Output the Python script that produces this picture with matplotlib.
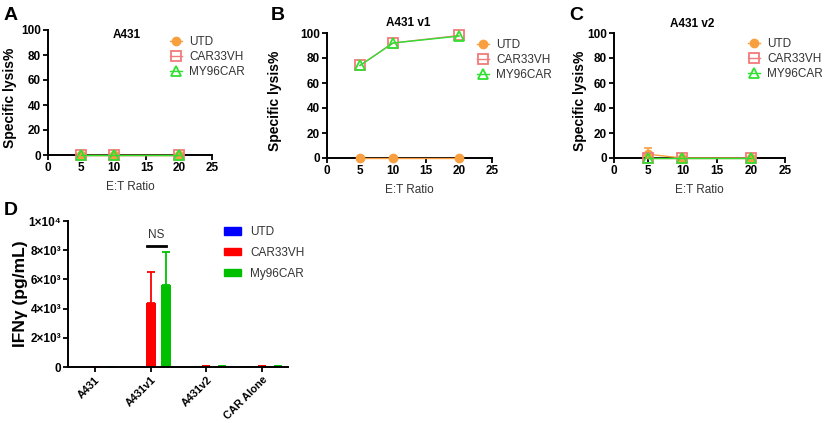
import numpy as np
import matplotlib.pyplot as plt
from matplotlib.patches import Patch
from matplotlib.lines import Line2D

plt.rcParams['font.family'] = ['Liberation Sans', 'DejaVu Sans']

# lysis data
ratios = [5, 10, 20]
series_names = ['UTD', 'CAR33VH', 'MY96CAR']
a431_utd = [0, 0, 0]
a431_car33 = [0, 0, 0]
a431_my96 = [0, 0, 0]
v1_utd = [0, 0, 0]
v1_car33 = [74, 92, 98]
v1_my96 = [74, 92, 97.5]
v2_utd = [3, 0, 0]
v2_utd_err = [5, 0, 0]
v2_car33 = [0, 0, 0]
v2_my96 = [0, 0, 0]

# IFNg data
ifn_cats = ['A431', 'A431v1', 'A431v2', 'CAR Alone']
ifn_names = ['UTD', 'CAR33VH', 'My96CAR']
ifn_utd = [0, 0, 0, 60]
ifn_car33 = [0, 4400, 60, 60]
ifn_my96 = [0, 5600, 60, 60]
ifn_car33_err = [0, 2100, 0, 0]
ifn_my96_err = [0, 2250, 0, 0]

W, H = 831, 423
fig = plt.figure(figsize=(W / 100, H / 100), dpi=100)

def px_axes(l, t, r, b):
    return fig.add_axes([l / W, 1 - b / H, (r - l) / W, (b - t) / H])

ORANGE = '#F8A040'
PINK = '#F27B7B'
LIME = '#30E030'

def style_axes(ax):
    for s in ['top', 'right']:
        ax.spines[s].set_visible(False)
    for s in ['left', 'bottom']:
        ax.spines[s].set_linewidth(1.4)
    ax.tick_params(direction='out', length=3.5, width=1.3, labelsize=8.5, pad=1.5)
    for lab in ax.get_xticklabels() + ax.get_yticklabels():
        lab.set_fontweight('bold')

def lysis_panel(box, utd, car33, my96, title, title_y, letter, letter_xy, leg_xy, ylab_x, utd_err=None):
    ax = px_axes(*box)
    ax.plot(ratios, utd, color=ORANGE, lw=1, marker='o', ms=6, mec=ORANGE, mfc=ORANGE, clip_on=False, zorder=5)
    if utd_err is not None:
        ax.errorbar(ratios, utd, yerr=[np.zeros(len(utd)), utd_err], fmt='none', ecolor=ORANGE,
                    elinewidth=1.2, capsize=3, capthick=1.2, clip_on=False, zorder=5)
    ax.plot(ratios, car33, color=PINK, lw=1, marker='s', ms=6.5, mec=PINK, mfc='none', mew=1.3, clip_on=False, zorder=6)
    ax.plot(ratios, my96, color=LIME, lw=1, marker='^', ms=6.5, mec=LIME, mfc='none', mew=1.3, clip_on=False, zorder=7)
    ax.set_xlim(0, 25)
    ax.set_ylim(0, 100)
    ax.set_xticks([0, 5, 10, 15, 20, 25])
    ax.set_yticks([0, 20, 40, 60, 80, 100])
    style_axes(ax)
    ax.set_xlabel('E:T Ratio', fontsize=8.5, color='#333333', labelpad=5)
    ax.set_ylabel('Specific lysis%', fontsize=10, fontweight='bold')
    ax.yaxis.set_label_coords(ylab_x, 0.46)
    fig.text(box[0] / W + (box[2] - box[0]) / W * title[1], 1 - title_y / H, title[0],
             fontsize=8.5, fontweight='bold', ha='center', va='center')
    fig.text(letter_xy[0] / W, 1 - letter_xy[1] / H, letter, fontsize=14, fontweight='bold', va='center')
    handles = [
        Line2D([], [], color=ORANGE, lw=1, marker='o', ms=6, mfc=ORANGE, mec=ORANGE),
        Line2D([], [], color=PINK, lw=1, marker='s', ms=6.5, mfc='none', mec=PINK, mew=1.3),
        Line2D([], [], color=LIME, lw=1, marker='^', ms=6.5, mfc='none', mec=LIME, mew=1.3),
    ]
    leg = fig.legend(handles, series_names, loc='upper left',
                     bbox_to_anchor=(leg_xy[0] / W, 1 - leg_xy[1] / H), frameon=False,
                     fontsize=8.5, handlelength=1.0, handletextpad=0.6, labelspacing=0.25,
                     borderpad=0, borderaxespad=0)
    for t in leg.get_texts():
        t.set_color('#333333')
    return ax

lysis_panel((48, 30, 212, 155), a431_utd, a431_car33, a431_my96, ('A431', 0.48), 35,
            'A', (4, 15), (170, 36), -0.19)
lysis_panel((327, 33, 492, 158), v1_utd, v1_car33, v1_my96, ('A431 v1', 0.49), 23,
            'B', (271, 15), (477, 39), -0.27)
lysis_panel((614, 33, 785, 158), v2_utd, v2_car33, v2_my96, ('A431 v2', 0.46), 24,
            'C', (569, 15), (748, 38), -0.158, utd_err=v2_utd_err)

# panel D
axd = px_axes(68, 221, 288, 367)
x = np.arange(len(ifn_cats))
bw = 0.18
off = 0.28
axd.bar(x - off, ifn_utd, bw, color='#0000FF')
axd.bar(x, ifn_car33, bw, color='#FF0000',
        yerr=[np.zeros(len(x)), ifn_car33_err], error_kw=dict(ecolor='#FF0000', elinewidth=1.3, capsize=3, capthick=1.3))
axd.bar(x + off, ifn_my96, bw, color='#00C000',
        yerr=[np.zeros(len(x)), ifn_my96_err], error_kw=dict(ecolor='#00C000', elinewidth=1.3, capsize=3, capthick=1.3))
axd.set_xlim(-0.48, 3.46)
axd.set_ylim(0, 10000)
axd.set_xticks(x)
axd.set_xticklabels(ifn_cats, rotation=45, ha='right', rotation_mode='anchor')
axd.set_yticks([0, 2000, 4000, 6000, 8000, 10000])
axd.set_yticklabels(['0', '2×10³', '4×10³', '6×10³', '8×10³', '1×10⁴'])
style_axes(axd)
axd.tick_params(axis='y', labelsize=8.5)
axd.tick_params(axis='x', labelsize=7.8, pad=2)
axd.set_ylabel('IFNγ (pg/mL)', fontsize=12.5, fontweight='bold')
axd.yaxis.set_label_coords(-0.18, 0.5)
axd.plot([0.94, 1.28], [8300, 8300], color='black', lw=2)
axd.text(1.1, 8650, 'NS', ha='center', va='bottom', fontsize=8.5, color='#333333')
fig.text(4 / W, 1 - 210 / H, 'D', fontsize=14, fontweight='bold', va='center')

leg_handles = [Patch(color='#0000FF'), Patch(color='#FF0000'), Patch(color='#00C000')]
legd = fig.legend(leg_handles, ifn_names, loc='upper left', bbox_to_anchor=(224 / W, 1 - 226 / H),
                  frameon=False, fontsize=8.5, handlelength=1.4, handleheight=0.6,
                  handletextpad=0.8, labelspacing=0.75, borderpad=0, borderaxespad=0)
for t in legd.get_texts():
    t.set_color('#333333')

fig.savefig('out.png', dpi=100)
